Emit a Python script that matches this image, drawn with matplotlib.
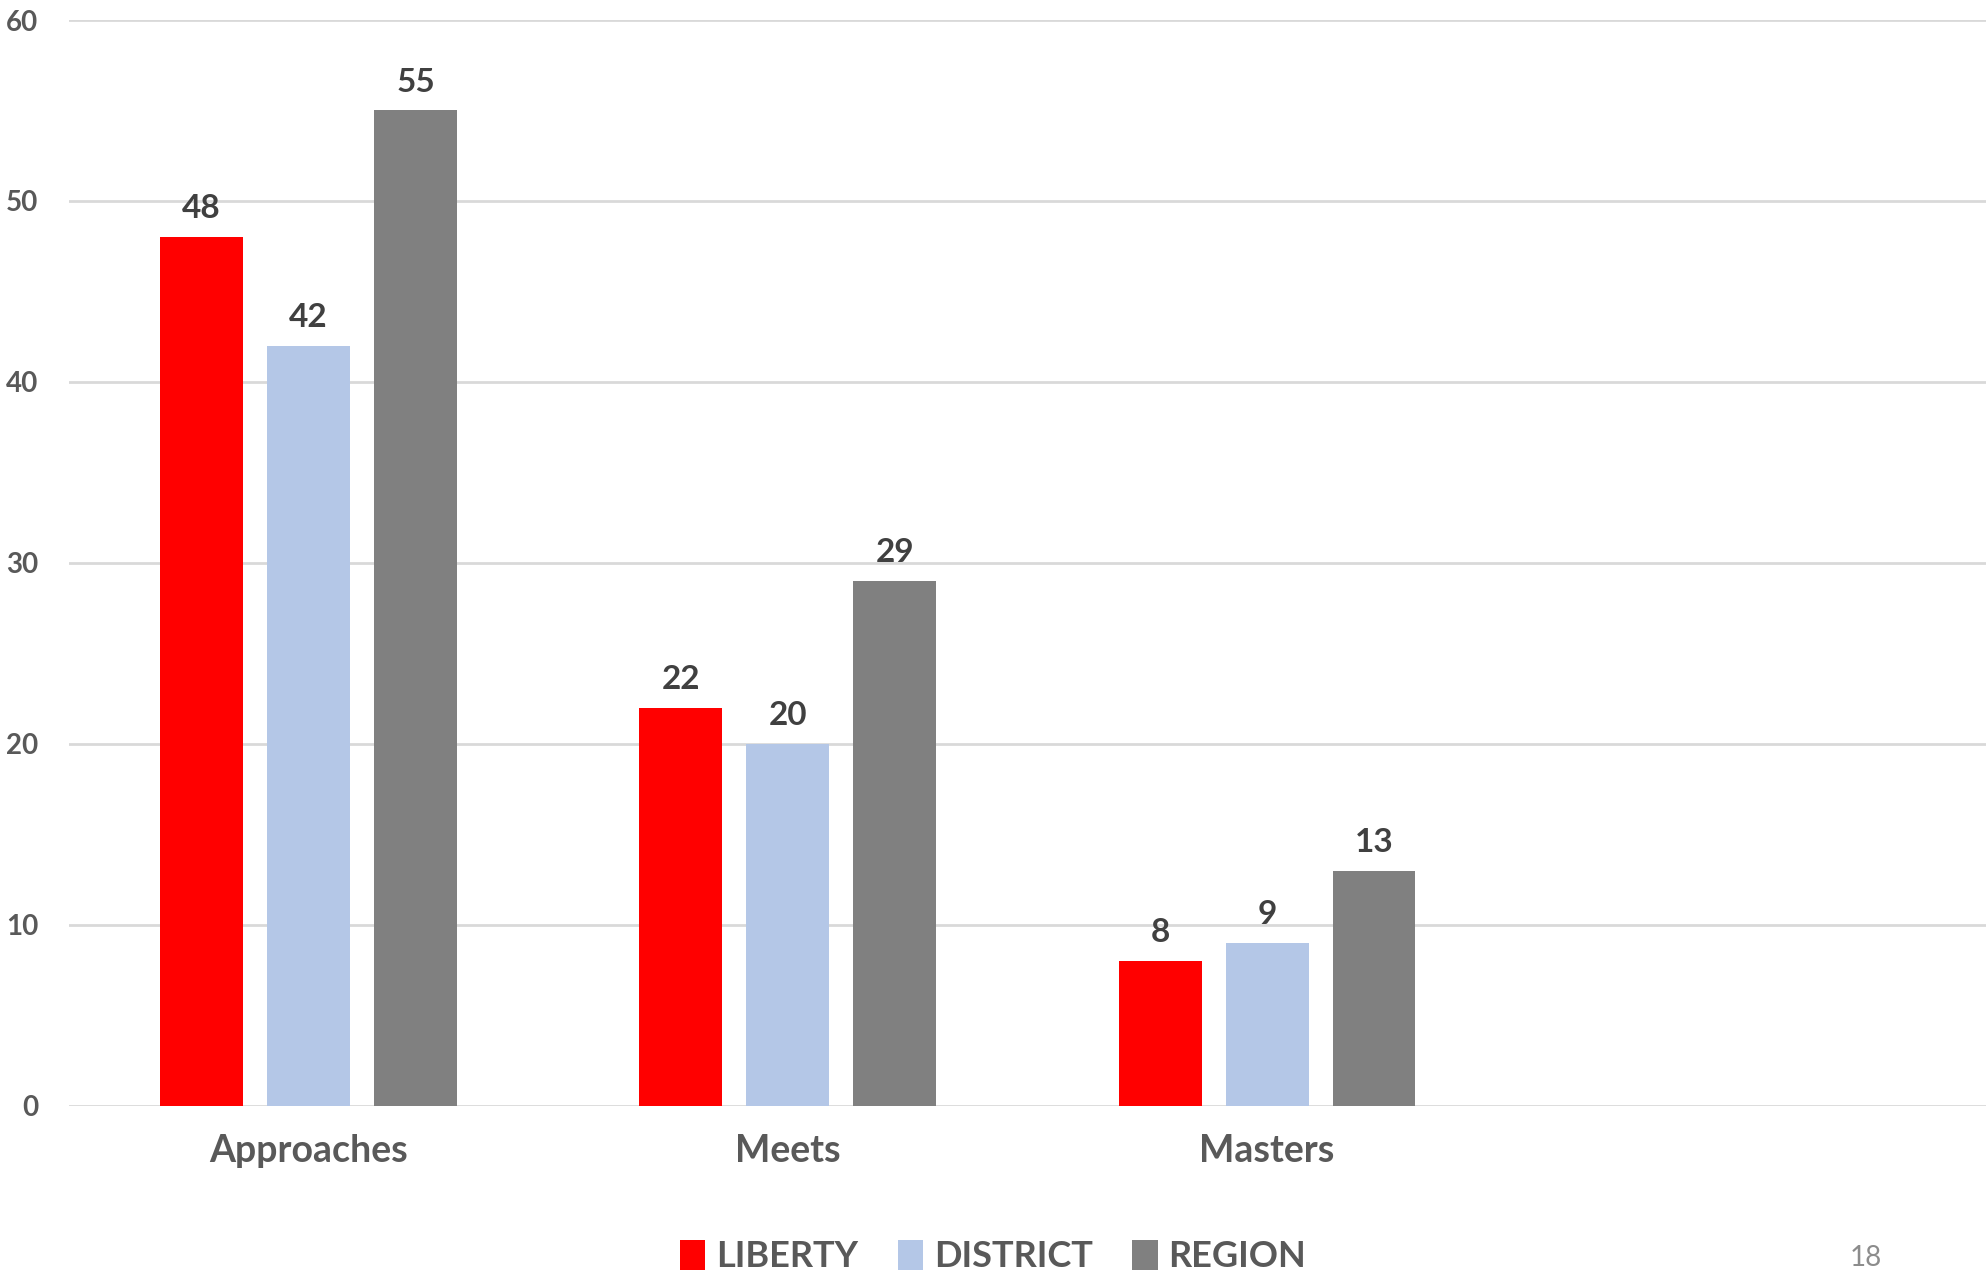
import matplotlib.pyplot as plt
import numpy as np

# 数据
categories = ['Approaches', 'Meets', 'Masters', '']
liberty = [48, 22, 8]
district = [42, 20, 9]
region = [55, 29, 13]
series_names = ['LIBERTY', 'DISTRICT', 'REGION']
colors = ['#ff0000', '#b4c7e7', '#808080']
yticks = [0, 10, 20, 30, 40, 50, 60]

plt.rcParams['font.family'] = ['Lato', 'DejaVu Sans']
txt = '#595959'

fig = plt.figure(figsize=(19.86, 12.74), dpi=100)
ax = fig.add_axes([0.0347, 0.1319, 0.9653, 0.8524])

x = np.arange(3)
w = 0.173
step = 0.223
for i, (vals, name, c) in enumerate(zip([liberty, district, region], series_names, colors)):
    bars = ax.bar(x + (i - 1) * step, vals, width=w, color=c, label=name, zorder=3)
    ax.bar_label(bars, padding=10, fontsize=24, fontweight='bold', color='#404040')

ax.set_xlim(-0.5, 3.5)
ax.set_ylim(0, 60)
ax.set_yticks(yticks)
ax.set_xticks(np.arange(4))
ax.set_xticklabels(categories)
ax.yaxis.grid(True, color='#d9d9d9', lw=2, zorder=0)
for s in ax.spines.values():
    s.set_visible(False)
ax.tick_params(axis='both', length=0)
ax.tick_params(axis='y', labelsize=20, labelcolor=txt, pad=22)
ax.tick_params(axis='x', labelsize=27, labelcolor=txt, pad=20)
for lab in ax.get_yticklabels() + ax.get_xticklabels():
    lab.set_fontweight('bold')

leg = fig.legend(loc='lower center', bbox_to_anchor=(0.5, -0.025), ncol=3, frameon=False,
                 fontsize=26, handlelength=0.7, handleheight=0.9, handletextpad=0.3,
                 columnspacing=1.1)
for t in leg.get_texts():
    t.set_color(txt)
    t.set_fontweight('bold')

fig.text(0.9395, 0.002, '18', fontsize=20, color='#8c8c8c', ha='center', va='bottom')

fig.savefig('out.png', dpi=100)
